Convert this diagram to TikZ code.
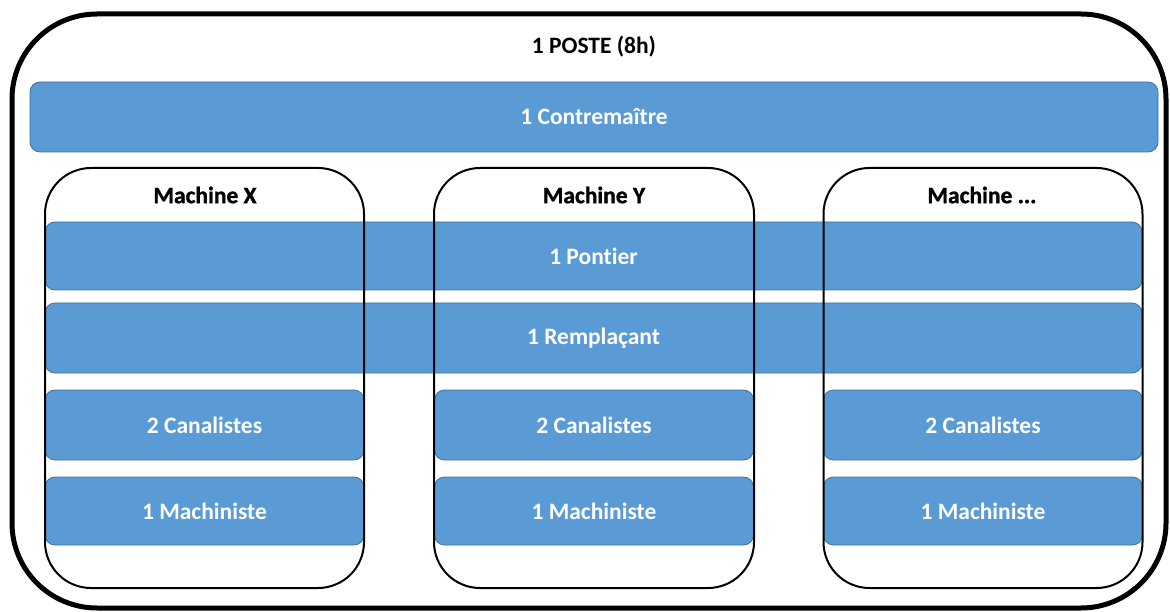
\documentclass[tikz,border=0pt]{standalone}
\usepackage{fontspec}
\setmainfont{Carlito}[Ligatures=NoCommon]
\newfontfamily\heavyfont{Carlito}[Ligatures=NoCommon,BoldFeatures={FakeBold=1.2}]
\definecolor{barblue}{HTML}{5B9BD5}
\definecolor{barline}{HTML}{41719C}
\begin{document}
\begin{tikzpicture}[x=1pt,y=-1pt,
  bar/.style={draw=barline,line width=0.8pt,fill=barblue,rounded corners=10pt,
    text=white,font=\bfseries\fontsize{23.5}{26}\selectfont,inner sep=0pt},
  machbox/.style={draw=black,line width=2pt,rounded corners=46pt,inner sep=0pt},
  outerbox/.style={draw=black,line width=5pt,rounded corners=85pt,inner sep=0pt},
  title/.style={font=\bfseries\fontsize{23.5}{26}\selectfont,text=black,inner sep=0pt},
  mtitle/.style={font=\heavyfont\bfseries\fontsize{23.5}{26}\selectfont,text=black,inner sep=0pt}]
\useasboundingbox (0,0) rectangle (1170,612);
% outer frame
\node[outerbox,minimum width=1154pt,minimum height=594pt] (outer) at (589,311) {};
\node[title] (poste) at (594,47) {1 POSTE (8h)};
% bars
\node[bar,minimum width=1128pt,minimum height=70pt] (contre) at (594,117) {1 Contremaître};
\node[bar,minimum width=1097pt,minimum height=68pt] (pont) at (593.5,256) {1 Pontier};
\node[bar,minimum width=1097pt,minimum height=70pt] (rempl) at (593.5,338) {1 Remplaçant};
\foreach \n/\cx in {x/204.5,y/594,z/983}{
  \node[bar,minimum width=319pt,minimum height=70pt] (can\n) at (\cx,425) {2 Canalistes};
  \node[bar,minimum width=319pt,minimum height=68pt] (mach\n) at (\cx,511) {1 Machiniste};
}
% machine boxes on top
\node[machbox,minimum width=319pt,minimum height=420pt] (mx) at (204.5,378) {};
\node[machbox,minimum width=320pt,minimum height=420pt] (my) at (594,378) {};
\node[machbox,minimum width=319pt,minimum height=420pt] (mz) at (983,378) {};
\node[mtitle] (tx) at (205,195) {Machine X};
\node[mtitle] (ty) at (594,195) {Machine Y};
\node[mtitle] (tz) at (982,195) {Machine ...};
\end{tikzpicture}
\end{document}
